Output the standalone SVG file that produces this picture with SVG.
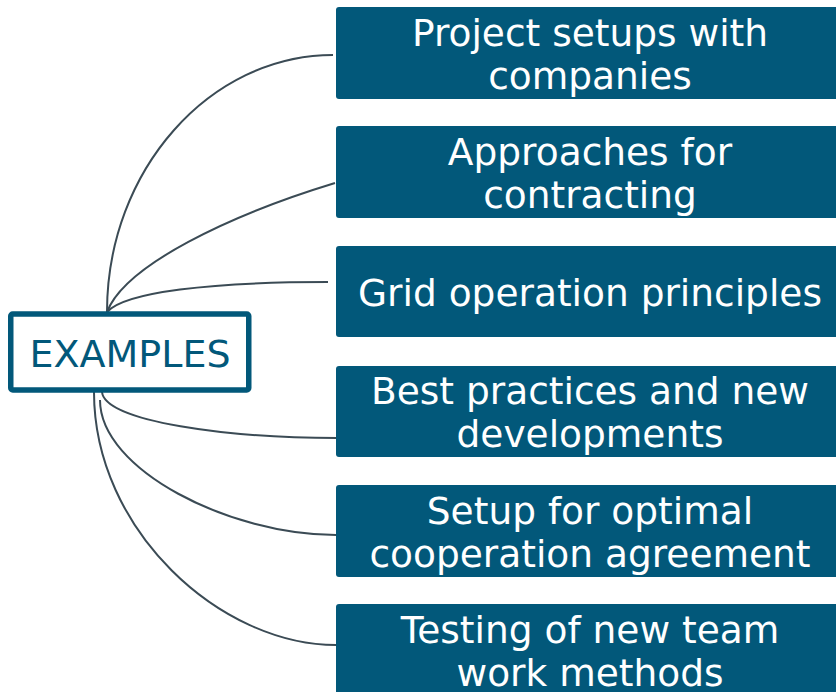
<svg xmlns="http://www.w3.org/2000/svg" width="836" height="692" viewBox="0 0 836 692">
<style>
.box{fill:#02587A;}
.t{font-family:"DejaVu Sans",Verdana,sans-serif;font-size:37.5px;fill:#ffffff;text-anchor:middle;}
.c{fill:none;stroke:#3B4B55;stroke-width:2;}
.root{fill:#ffffff;stroke:#02587A;stroke-width:5.5;}
.rt{font-family:"DejaVu Sans",Verdana,sans-serif;font-size:38px;fill:#02587A;text-anchor:middle;}
</style>
<rect width="836" height="692" fill="#ffffff"/>
<g id="connectors">
<path class="c" d="M107,312 C107,170 210,55 333,55"/>
<path class="c" d="M107,312 C125,265 230,215 335,183"/>
<path class="c" d="M107,312 C125,292 210,282 328,282"/>
<path class="c" d="M102,392 C105,422 230,438 337,438"/>
<path class="c" d="M100,400 C100,470 230,535 336,535"/>
<path class="c" d="M94,392 C94,530 220,645 336,645"/>
</g>
<g id="root">
<rect class="root" x="10.75" y="314" width="238" height="76" rx="2"/>
<text class="rt" x="130" y="367">EXAMPLES</text>
</g>
<g id="n1">
<rect class="box" x="336" y="7" width="510" height="92" rx="3"/>
<text class="t" x="590" y="46">Project setups with</text>
<text class="t" x="590" y="89">companies</text>
</g>
<g id="n2">
<rect class="box" x="336" y="126" width="510" height="92" rx="3"/>
<text class="t" x="590" y="165">Approaches for</text>
<text class="t" x="590" y="208">contracting</text>
</g>
<g id="n3">
<rect class="box" x="336" y="246" width="510" height="91" rx="3"/>
<text class="t" x="590" y="306">Grid operation principles</text>
</g>
<g id="n4">
<rect class="box" x="336" y="366" width="510" height="91" rx="3"/>
<text class="t" x="590" y="404">Best practices and new</text>
<text class="t" x="590" y="447">developments</text>
</g>
<g id="n5">
<rect class="box" x="336" y="485" width="510" height="92" rx="3"/>
<text class="t" x="590" y="524">Setup for optimal</text>
<text class="t" x="590" y="567">cooperation agreement</text>
</g>
<g id="n6">
<rect class="box" x="336" y="604" width="510" height="100" rx="3"/>
<text class="t" x="590" y="643">Testing of new team</text>
<text class="t" x="590" y="686">work methods</text>
</g>
</svg>
